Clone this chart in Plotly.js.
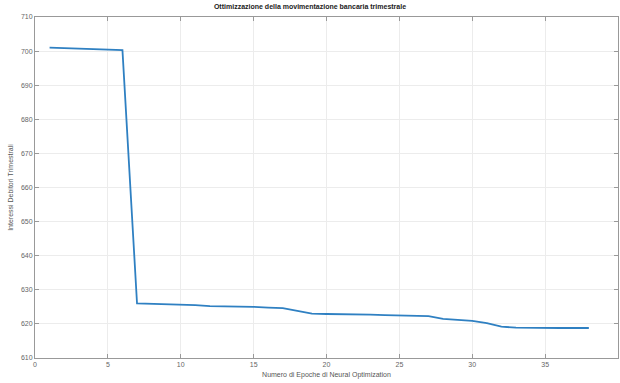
<!DOCTYPE html>
<html><head><meta charset="utf-8">
<script src="https://cdn.plot.ly/plotly-3.0.1.min.js"></script>
<style>html,body{margin:0;padding:0;background:#fff}#chart{width:620px;height:383px}</style>
</head><body><div id="chart"></div>
<script>
const epochs = [1,2,3,4,5,6,7,8,9,10,11,12,13,14,15,16,17,18,19,20,21,22,23,24,25,26,27,28,29,30,31,32,33,34,35,36,37,38];
const interessi = [701.0,700.9,700.7,700.6,700.5,700.3,626.0,625.9,625.8,625.7,625.5,625.2,625.2,625.1,625.0,624.8,624.6,623.8,623.0,622.9,622.9,622.8,622.7,622.6,622.5,622.4,622.3,621.5,621.1,620.9,620.2,619.2,618.9,618.8,618.8,618.8,618.8,618.8];
const xTicks = [0,5,10,15,20,25,30,35,40];
const yTicks = [610,620,630,640,650,660,670,680,690,700,710];
const titleText = 'Ottimizzazione della movimentazione bancaria trimestrale';
const xLabel = 'Numero di Epoche di Neural Optimization';
const yLabel = 'Interessi Debitori Trimestrali';

const tickFont = {family: 'Liberation Sans, Arial, sans-serif', size: 7, color: '#666'};
Plotly.newPlot('chart', [{
  x: epochs, y: interessi, type: 'scatter', mode: 'lines',
  line: {color: '#2f80c2', width: 1.8}
}], {
  width: 620, height: 383,
  margin: {l: 35, r: 2, t: 17, b: 25},
  paper_bgcolor: '#fff', plot_bgcolor: '#fff',
  showlegend: false,
  title: {text: '<b>' + titleText + '</b>', font: {family: 'Liberation Sans, Arial, sans-serif', size: 7, color: '#222'}, x: 0.5, xanchor: 'center', y: 0.99, yanchor: 'top'},
  xaxis: {range: [0, 40], tickvals: xTicks, ticktext: xTicks.map(String), showgrid: true, gridcolor: '#ececec', gridwidth: 1,
    zeroline: false, showline: true, linecolor: '#999', linewidth: 1, mirror: 'ticks', ticks: 'inside', ticklen: 4, tickcolor: '#999',
    tickfont: tickFont, title: {text: xLabel, font: {family: 'Liberation Sans, Arial, sans-serif', size: 7, color: '#555'}, standoff: 4}},
  yaxis: {range: [610, 710], tickvals: yTicks, ticktext: yTicks.map(String), showgrid: true, gridcolor: '#ececec', gridwidth: 1,
    zeroline: false, showline: true, linecolor: '#999', linewidth: 1, mirror: 'ticks', ticks: 'inside', ticklen: 4, tickcolor: '#999',
    tickfont: tickFont, title: {text: yLabel, font: {family: 'Liberation Sans, Arial, sans-serif', size: 7, color: '#555'}, standoff: 6}}
}, {displayModeBar: false, staticPlot: true});
</script></body></html>
